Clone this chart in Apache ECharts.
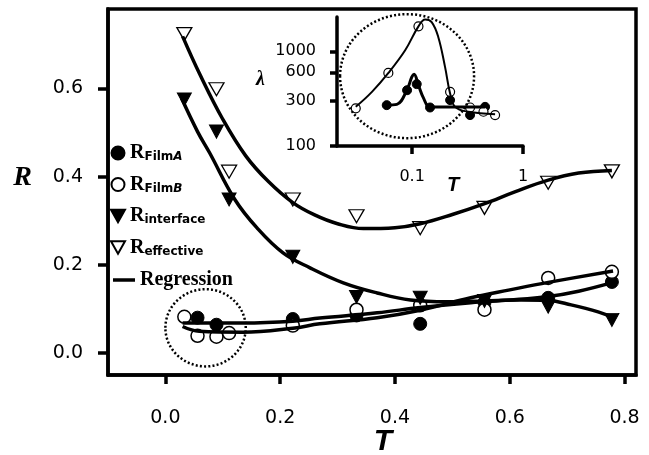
<!DOCTYPE html>
<html>
<head>
<meta charset="utf-8">
<script src="https://cdn.jsdelivr.net/npm/echarts@6/dist/echarts.min.js"></script>
<style>html,body{margin:0;padding:0;background:#fff}#c{width:649px;height:455px}</style>
</head>
<body>
<div id="c"></div>
<script>
// ---------- main plot data ----------
const T_FilmA = [0.056, 0.089, 0.222, 0.333, 0.444, 0.556, 0.667, 0.778];
const R_FilmA = [0.080, 0.064, 0.077, 0.085, 0.066, 0.115, 0.125, 0.161];
const T_FilmB = [0.033, 0.056, 0.089, 0.111, 0.222, 0.333, 0.444, 0.556, 0.667, 0.778];
const R_FilmB = [0.082, 0.039, 0.037, 0.045, 0.062, 0.098, 0.108, 0.098, 0.170, 0.184];
const T_Interface = [0.033, 0.089, 0.111, 0.222, 0.333, 0.444, 0.556, 0.667, 0.778];
const R_Interface = [0.575, 0.502, 0.348, 0.218, 0.127, 0.125, 0.118, 0.105, 0.075];
const T_Effective = [0.033, 0.089, 0.111, 0.222, 0.333, 0.444, 0.556, 0.667, 0.778];
const R_Effective = [0.723, 0.598, 0.411, 0.348, 0.310, 0.283, 0.329, 0.386, 0.412];

// regression curves
const regEff_T = [0.030, 0.060, 0.100, 0.140, 0.180, 0.222, 0.260, 0.300, 0.345, 0.400, 0.444, 0.500, 0.555, 0.610, 0.667, 0.720, 0.778];
const regEff_R = [0.718, 0.632, 0.530, 0.447, 0.388, 0.341, 0.313, 0.293, 0.282, 0.284, 0.293, 0.314, 0.338, 0.366, 0.392, 0.408, 0.414];
const regInt_T = [0.028, 0.056, 0.077, 0.121, 0.160, 0.205, 0.252, 0.310, 0.369, 0.427, 0.492, 0.555, 0.620, 0.667, 0.707, 0.754, 0.780];
const regInt_R = [0.578, 0.502, 0.454, 0.348, 0.283, 0.227, 0.193, 0.159, 0.136, 0.120, 0.116, 0.118, 0.120, 0.119, 0.109, 0.093, 0.080];
const regA_T = [0.030, 0.135, 0.222, 0.269, 0.369, 0.444, 0.532, 0.600, 0.667, 0.720, 0.780];
const regA_R = [0.068, 0.068, 0.072, 0.079, 0.091, 0.103, 0.114, 0.120, 0.128, 0.140, 0.160];
const regB_T = [0.030, 0.059, 0.135, 0.222, 0.269, 0.369, 0.444, 0.532, 0.600, 0.667, 0.780];
const regB_R = [0.060, 0.049, 0.047, 0.056, 0.066, 0.080, 0.097, 0.125, 0.143, 0.160, 0.186];

const xTicks = [0, 0.2, 0.4, 0.6, 0.8];
const yTicks = [0, 0.2, 0.4, 0.6];

// ---------- inset data (log-log) ----------
const inA_T = [0.059, 0.090, 0.110, 0.145, 0.220, 0.333, 0.455];
const inA_L = [270, 388, 450, 255, 305, 212, 259];
const inB_T = [0.031, 0.061, 0.114, 0.220, 0.333, 0.440, 0.560];
const inB_L = [250, 591, 1833, 373, 255, 230, 212];
const regInA_T = [0.059, 0.0728, 0.0896, 0.0994, 0.104, 0.114, 0.127, 0.145, 0.455];
const regInA_L = [270, 275, 388, 536, 572, 438, 318, 258, 258];
const regInB_T = [0.031, 0.0434, 0.0611, 0.0865, 0.114, 0.131, 0.150, 0.172, 0.198, 0.220, 0.244, 0.321, 0.560];
const regInB_L = [259, 373, 591, 1025, 1833, 2160, 2030, 1417, 684, 359, 259, 230, 217];
const inXTicks = [0.1, 1];
const inYTicks = [100, 300, 600, 1000];

// annotation circles (data coordinates)
const mainCircle = {x: 0.070, y: 0.057, rx: 0.070, ry: 0.0875};
const insetCircle = {x: 0.090, y: 546};

const pairs = (a, b) => a.map((v, i) => [v, b[i]]);
const K = '#000';
const numFont = 'DejaVu Sans';
const triDown = 'path://M0,0 L20,0 L10,18 Z';

const legendNames = {
  'R_FilmA': '{R|R}{s|Film}{si|A}',
  'R_FilmB': '{R|R}{s|Film}{si|B}',
  'R_interface': '{R|R}{s|interface}',
  'R_effective': '{R|R}{s|effective}'
};
const rich = {
  R: {fontFamily: 'Liberation Serif', fontWeight: 'bold', fontSize: 20, lineHeight: 20, verticalAlign: 'bottom', color: K},
  s: {fontFamily: numFont, fontWeight: 'bold', fontSize: 12, lineHeight: 12, verticalAlign: 'bottom', color: K},
  si: {fontFamily: numFont, fontWeight: 'bold', fontStyle: 'italic', fontSize: 12, lineHeight: 12, verticalAlign: 'bottom', color: K}
};

function regLine(data, xi, yi, w) {
  return {
    name: 'Regression', type: 'line', data: data, xAxisIndex: xi, yAxisIndex: yi,
    smooth: 0.4, symbol: 'none', showSymbol: false, z: 4,
    lineStyle: {color: K, width: w, opacity: 1}, itemStyle: {color: K, opacity: 1}
  };
}
function sc(name, data, xi, yi, symbol, size, fill, bw) {
  return {
    name: name, type: 'scatter', data: data, xAxisIndex: xi, yAxisIndex: yi,
    symbol: symbol, symbolSize: size, z: 2,
    itemStyle: {color: fill, borderColor: K, borderWidth: bw, opacity: 1},
    emphasis: {disabled: true}
  };
}

const chart = echarts.init(document.getElementById('c'), null, {renderer: 'canvas'});
const option = {
  animation: false,
  backgroundColor: '#fff',
  grid: [
    {left: 108, top: 9, width: 528, height: 366, show: true, borderColor: K, borderWidth: 3.5, backgroundColor: 'transparent', outerBoundsMode: 'none', containLabel: false},
    {left: 337, top: 17, width: 186, height: 129, show: false, outerBoundsMode: 'none', containLabel: false}
  ],
  xAxis: [
    {
      type: 'value', gridIndex: 0, min: -0.1, max: 0.82,
      name: 'T', nameLocation: 'middle', nameGap: 52, nameMoveOverlap: false,
      nameTextStyle: {fontFamily: 'Liberation Sans', fontWeight: 'bold', fontStyle: 'italic', fontSize: 30, color: K, padding: [0, 0, 0, 22]},
      axisLine: {show: true, onZero: false, lineStyle: {color: K, width: 3.5}},
      axisTick: {show: true, length: 9, customValues: xTicks, lineStyle: {color: K, width: 3.5}},
      axisLabel: {margin: 34, customValues: xTicks, formatter: v => v.toFixed(1), fontFamily: numFont, fontSize: 19, color: K},
      splitLine: {show: false}
    },
    {
      type: 'log', gridIndex: 1, min: 0.021, max: 1, logBase: 10,
      name: 'T', nameLocation: 'middle', nameGap: 29, nameMoveOverlap: false,
      nameTextStyle: {fontFamily: 'Liberation Sans', fontWeight: 'bold', fontStyle: 'italic', fontSize: 20, color: K, padding: [0, 0, 0, 46]},
      axisLine: {show: true, onZero: false, lineStyle: {color: K, width: 3.5}},
      axisTick: {show: true, length: 8, customValues: inXTicks, lineStyle: {color: K, width: 3.5}},
      axisLabel: {margin: 23, customValues: inXTicks, formatter: v => (v >= 1 ? '1' : String(v)), fontFamily: numFont, fontSize: 16, color: K},
      splitLine: {show: false}, minorTick: {show: false}
    }
  ],
  yAxis: [
    {
      type: 'value', gridIndex: 0, min: -0.05, max: 0.78,
      name: 'R', nameLocation: 'middle', nameRotate: 0, nameGap: 76, nameMoveOverlap: false,
      nameTextStyle: {fontFamily: 'Liberation Serif', fontWeight: 'bold', fontStyle: 'italic', fontSize: 28, color: K, verticalAlign: 'bottom'},
      axisLine: {show: true, onZero: false, lineStyle: {color: K, width: 3.5}},
      axisTick: {show: true, length: 10, customValues: yTicks, lineStyle: {color: K, width: 3.5}},
      axisLabel: {margin: 25, customValues: yTicks, formatter: v => v.toFixed(1), fontFamily: numFont, fontSize: 19, color: K},
      splitLine: {show: false}
    },
    {
      type: 'log', gridIndex: 1, min: 100, max: 2300, logBase: 10,
      name: 'λ', nameLocation: 'middle', nameRotate: 0, nameGap: 72, nameMoveOverlap: false,
      nameTextStyle: {fontFamily: 'Liberation Serif', fontWeight: 'bold', fontStyle: 'italic', fontSize: 20, color: K, lineHeight: 4, verticalAlign: 'bottom'},
      axisLine: {show: true, onZero: false, lineStyle: {color: K, width: 3.5}},
      axisTick: {show: true, length: 7, customValues: inYTicks, lineStyle: {color: K, width: 3.5}},
      axisLabel: {margin: 21, customValues: inYTicks, formatter: v => String(Math.round(v)), fontFamily: numFont, fontSize: 16, color: K},
      splitLine: {show: false}, minorTick: {show: false}
    }
  ],
  legend: [
    {
      orient: 'vertical', left: 110, top: 143, padding: 0, itemGap: 11.5,
      itemWidth: 14, itemHeight: 13,
      data: ['R_FilmA', 'R_FilmB', {name: 'R_interface', icon: triDown}, {name: 'R_effective', icon: triDown}],
      formatter: n => legendNames[n],
      textStyle: {rich: rich, color: K},
      itemStyle: {opacity: 1},
      selectedMode: false
    },
    {
      orient: 'vertical', left: 113, top: 270, padding: 0,
      itemWidth: 22, itemHeight: 3.5,
      data: [{name: 'Regression', icon: 'rect'}],
      itemStyle: {color: K, opacity: 1},
      textStyle: {fontFamily: 'Liberation Serif', fontWeight: 'bold', fontSize: 20, color: K},
      selectedMode: false
    }
  ],
  series: [
    sc('R_FilmA', pairs(T_FilmA, R_FilmA), 0, 0, 'circle', 13, K, 1),
    sc('R_FilmB', pairs(T_FilmB, R_FilmB), 0, 0, 'circle', 13, '#fff', 1.5),
    sc('R_interface', pairs(T_Interface, R_Interface), 0, 0, triDown, [14, 13], K, 1),
    sc('R_effective', pairs(T_Effective, R_Effective), 0, 0, triDown, [15, 13], '#fff', 1.3),
    regLine(pairs(regEff_T, regEff_R), 0, 0, 3.5),
    regLine(pairs(regInt_T, regInt_R), 0, 0, 3.5),
    regLine(pairs(regA_T, regA_R), 0, 0, 3.5),
    regLine(pairs(regB_T, regB_R), 0, 0, 3.5),
    // inset
    sc('R_FilmA', pairs(inA_T, inA_L), 1, 1, 'circle', 9, K, 1),
    sc('R_FilmB', pairs(inB_T, inB_L), 1, 1, 'circle', 9, '#fff', 1.2),
    regLine(pairs(regInA_T, regInA_L), 1, 1, 3),
    regLine(pairs(regInB_T, regInB_L), 1, 1, 2)
  ]
};
chart.setOption(option);

const c0 = chart.convertToPixel({gridIndex: 0}, [mainCircle.x, mainCircle.y]);
const c0e = chart.convertToPixel({gridIndex: 0}, [mainCircle.x + mainCircle.rx, mainCircle.y + mainCircle.ry]);
const c1 = chart.convertToPixel({gridIndex: 1}, [insetCircle.x, insetCircle.y]);
chart.setOption({
  graphic: [
    {type: 'ellipse', shape: {cx: c0[0], cy: c0[1], rx: Math.abs(c0e[0] - c0[0]), ry: Math.abs(c0e[1] - c0[1])},
      style: {fill: 'none', stroke: K, lineWidth: 2.5, lineDash: [2, 2.2]}, z: 10, silent: true},
    {type: 'ellipse', shape: {cx: c1[0], cy: c1[1], rx: 67, ry: 62},
      style: {fill: 'none', stroke: K, lineWidth: 2.5, lineDash: [2, 2.2]}, z: 10, silent: true}
  ]
});
</script>
</body>
</html>
